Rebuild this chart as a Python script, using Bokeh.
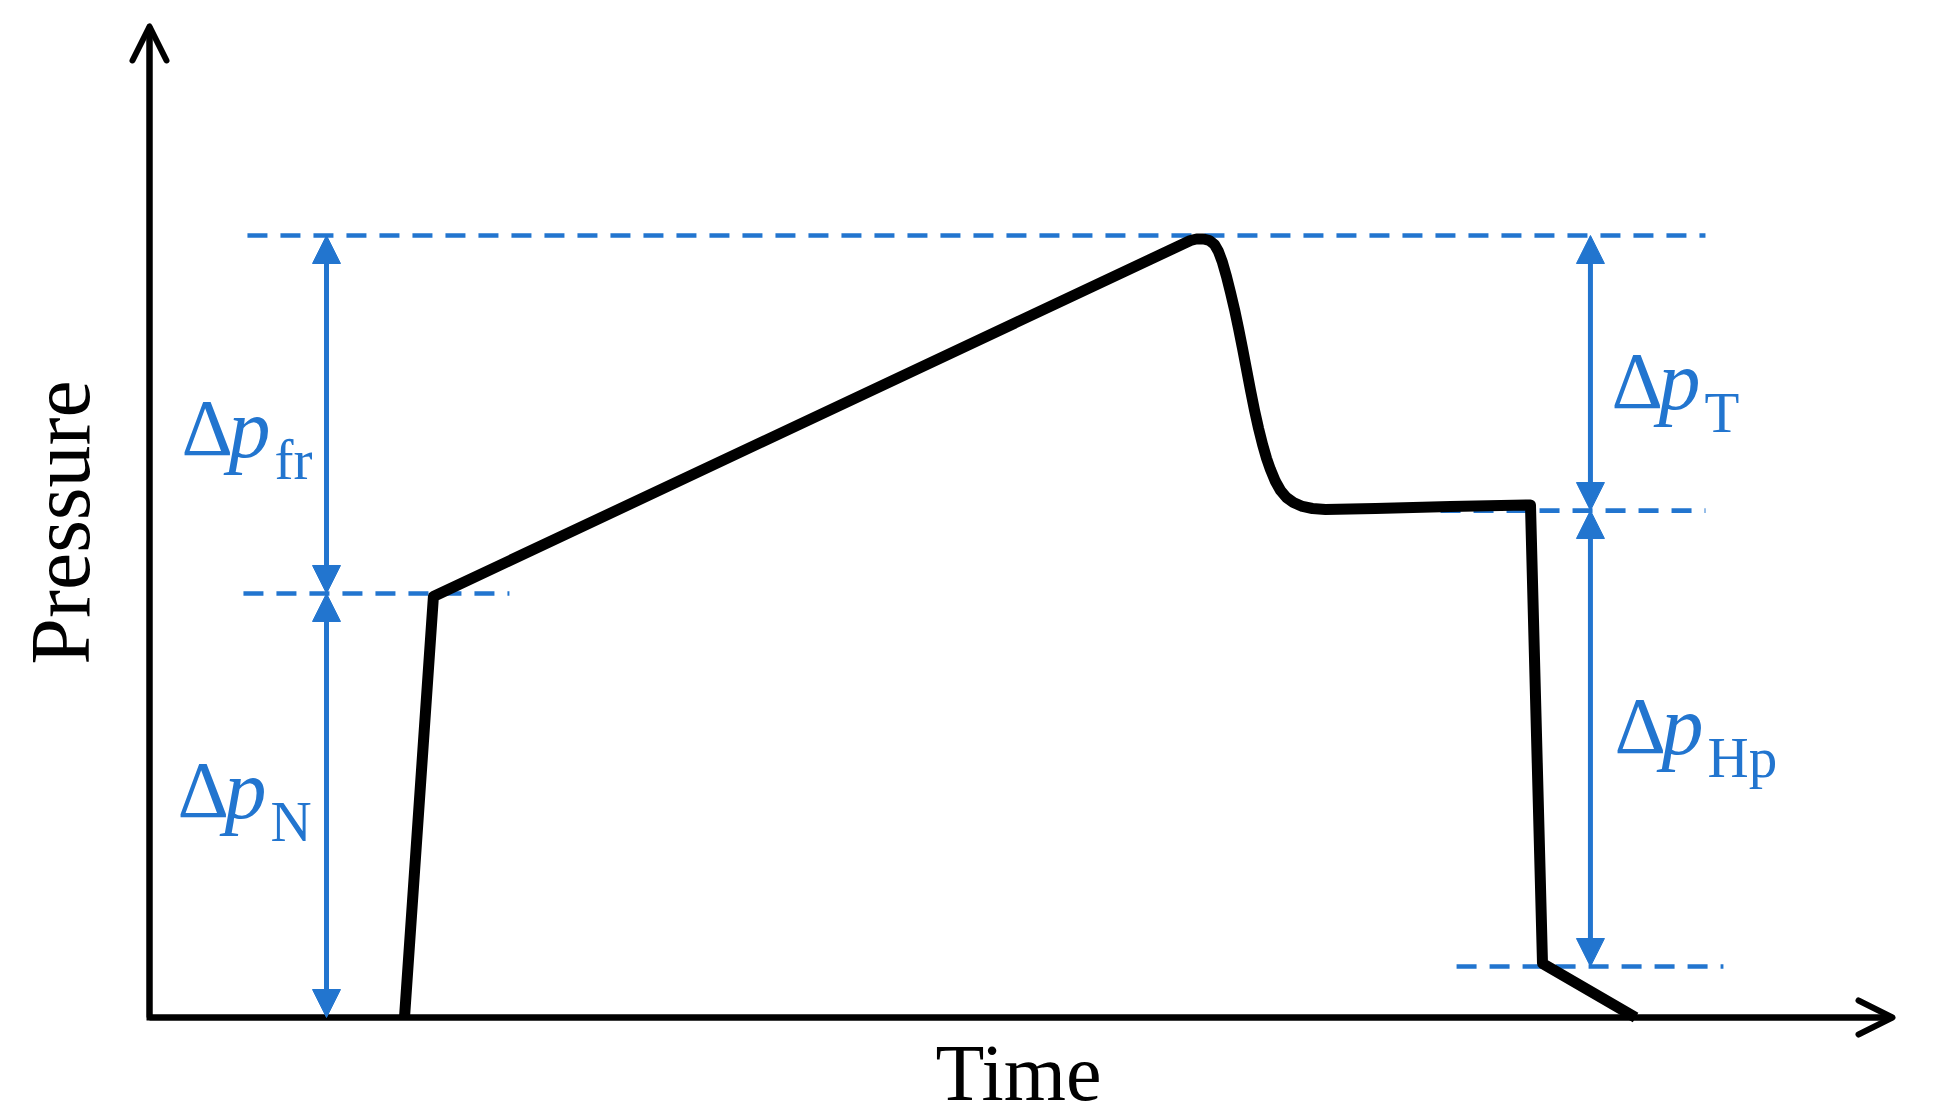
import numpy as np
from bokeh.plotting import figure
from bokeh.models import Range1d, Arrow, OpenHead, NormalHead, ColumnDataSource
from bokeh.core.properties import value
from bokeh.embed import file_html
from bokeh.resources import INLINE

# ---------------- data (schematic units: time 0-100, pressure 0-100) ----------------
time = [14.63, 16.29, 59.72, 60.07, 60.47, 60.81, 61.10, 61.33, 61.56, 61.79,
        62.02, 62.25, 62.48, 62.71, 62.94, 63.17, 63.40, 63.63, 63.86, 64.09,
        64.31, 64.60, 64.89, 65.23, 65.63, 66.15, 66.72, 67.47, 70.34, 74.64,
        79.23, 79.92, 85.26]
pressure = [0.0, 53.84, 99.36, 99.55, 99.55, 99.36, 98.85, 97.95, 96.55, 94.76,
            92.71, 90.54, 88.11, 85.55, 82.86, 80.18, 77.62, 75.32, 73.27, 71.48,
            70.08, 68.54, 67.39, 66.50, 65.86, 65.35, 65.09, 64.96, 65.09, 65.35,
            65.54, 6.91, 0.0]

# dashed reference levels
ref_level = [100.0, 54.22, 64.83, 6.52]
ref_t0 = [5.62, 5.39, 74.07, 74.99]
ref_t1 = [89.27, 20.65, 89.27, 90.30]

# dimension arrows
dim_t = [10.155, 10.155, 82.67, 82.67]
dim_p0 = [54.22, 0.0, 64.83, 6.52]
dim_p1 = [100.0, 54.22, 100.0, 64.83]

# labels  Δp_sub
lab_sub = ["fr", "N", "T", "Hp"]
lab_t = [1.84, 1.61, 83.88, 84.05]
lab_p = [71.68, 25.45, 77.75, 33.63]

axis_t_end = 100.0
axis_p_end = 126.73
x_title = "Time"
y_title = "Pressure"
x_title_pos = (49.86, -10.61)
y_title_pos = (-3.44, 63.30)

# ---------------- layout ----------------
W, H = 1933, 1118
PX_T, PX_P = 17.43, 7.82          # pixels per unit
ORIGIN_X, ORIGIN_Y = 149, 1017     # canvas px of axis origin (from left / top)
BLUE = "#2275CF"
FONT = value("Liberation Serif")
FIX = 0.34                         # baseline correction (em) for rendered text

p = figure(width=W, height=H,
           x_range=Range1d(-ORIGIN_X / PX_T, (W - ORIGIN_X) / PX_T),
           y_range=Range1d(-(H - ORIGIN_Y) / PX_P, ORIGIN_Y / PX_P),
           x_axis_type=None, y_axis_type=None,
           output_backend="svg", toolbar_location=None, min_border=0)
p.grid.visible = False
p.outline_line_color = None
p.background_fill_color = "white"
p.border_fill_color = "white"

# axes (L shape + open arrow heads)
p.line([0, 0, axis_t_end], [axis_p_end, 0, 0], line_width=6, color="black",
       line_join="miter")
for xe, ye in [(0, axis_p_end), (axis_t_end, 0)]:
    p.add_layout(Arrow(end=OpenHead(size=34, line_width=6, line_color="black",
                                    line_cap="round", line_join="round"),
                       x_start=0, y_start=0, x_end=xe, y_end=ye,
                       line_width=6, line_color="black"))

# dashed reference lines
p.segment(x0=ref_t0, y0=ref_level, x1=ref_t1, y1=ref_level,
          line_color=BLUE, line_width=4.7, line_dash="20 13")

# pressure curve
p.line(time, pressure, line_width=11, color="black", line_join="round")

# dimension arrows
dsrc = ColumnDataSource(dict(x=dim_t, y0=dim_p0, y1=dim_p1))
p.add_layout(Arrow(start=NormalHead(size=28, fill_color=BLUE, line_color=BLUE, line_width=1),
                   end=NormalHead(size=28, fill_color=BLUE, line_color=BLUE, line_width=1),
                   x_start="x", y_start="y0", x_end="x", y_end="y1", source=dsrc,
                   line_color=BLUE, line_width=5))

# labels
P_OFF = 47 / PX_T
SUB_OFF = 93 / PX_T
SUB_DROP = 22 / PX_P


def up(vals, size):
    return [v + FIX * size / PX_P for v in vals]


p.text(x=lab_t, y=up(lab_p, 84), text=["Δ"] * len(lab_t), text_font=FONT,
       text_font_size="80px", text_color=BLUE, text_align="left",
       text_baseline="alphabetic")
p.text(x=[t + P_OFF for t in lab_t], y=up(lab_p, 84), text=["p"] * len(lab_t),
       text_font=FONT, text_font_style="italic", text_font_size="84px",
       text_color=BLUE, text_align="left", text_baseline="alphabetic")
p.text(x=[t + SUB_OFF for t in lab_t], y=up([v - SUB_DROP for v in lab_p], 57),
       text=lab_sub, text_font=FONT, text_font_size="57px", text_color=BLUE,
       text_align="left", text_baseline="alphabetic")

# axis titles
p.text(x=[x_title_pos[0]], y=up([x_title_pos[1]], 80), text=[x_title], text_font=FONT,
       text_font_size="80px", text_color="black", text_align="center",
       text_baseline="alphabetic", text_line_height=1.0)
p.text(x=[y_title_pos[0] - FIX * 84 / PX_T], y=[y_title_pos[1]], text=[y_title],
       text_font=FONT, angle=np.pi / 2,
       text_font_size="84px", text_color="black", text_align="center",
       text_baseline="alphabetic")

open("out.html", "w").write(file_html(p, INLINE))
